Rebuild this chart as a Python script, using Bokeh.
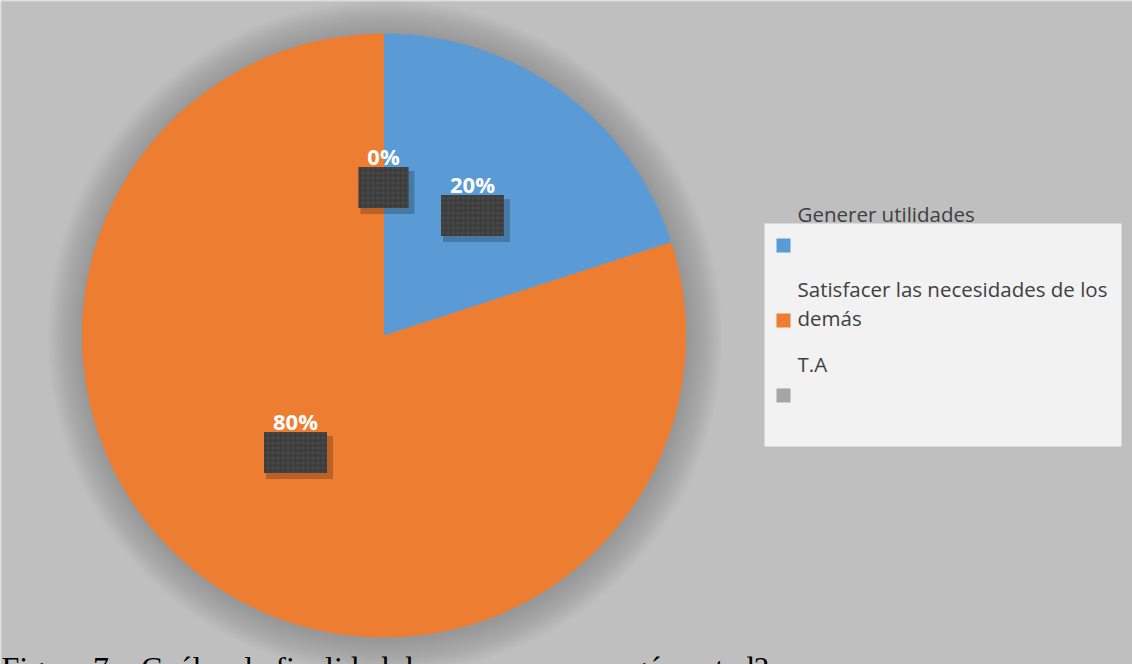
import math
import textwrap
from bokeh.plotting import figure
from bokeh.models import Range1d
from bokeh.core.properties import value
from bokeh.embed import file_html
from bokeh.resources import INLINE

# ---- data ----
categories = ["Generer utilidades", "Satisfacer las necesidades de los demás", "T.A"]
percent = [20, 80, 0]
colors = ["#5B9BD5", "#ED7D31", "#A5A5A5"]
caption = "Figura 7.\u00a0\u00a0\u00a0Cuál es la finalidad de una empresa según usted?"

# ---- layout (pixels) ----
W, H = 1132, 664
CX, CY, R = 383.5, 335, 302
BG = "#BFBFBF"
label_xy = [(472, 183), (295, 420), (383, 155)]  # data-label text centres


def Y(py):
    return H - py


p = figure(width=W, height=H, x_range=Range1d(0, W), y_range=Range1d(0, H),
           output_backend="svg", toolbar_location=None, min_border=0,
           background_fill_color=BG, border_fill_color=BG, outline_line_color=None)
p.axis.visible = False
p.grid.visible = False

# thin light frame line at top / left like the reference
p.line(x=[0.5, 0.5, W], y=[0, H - 0.5, H - 0.5], line_color="#D9D9D9", line_width=1)

# soft shadow around the pie
for k in range(16, 0, -1):
    p.circle(x=[CX + 1], y=[Y(CY) - 2], radius=R + 2.2 * k, fill_color="black",
             fill_alpha=0.013, line_color=None)

# wedges (clockwise from 12 o'clock)
total = sum(percent)
cum = 0.0
for val, col in zip(percent, colors):
    if val > 0:
        a0 = math.pi / 2 - 2 * math.pi * (cum + val) / total
        a1 = math.pi / 2 - 2 * math.pi * cum / total
        p.wedge(x=[CX], y=[Y(CY)], radius=R, start_angle=a0, end_angle=a1,
                fill_color=col, line_color=None)
    cum += val

# data labels with dark textured boxes
for val, (tx, ty) in zip(percent, label_xy):
    lab = f"{val}%"
    bw = 24 + 13 * len(lab)
    bh = 41
    bx, by = tx, ty + 32
    p.rect(x=[bx + 4], y=[Y(by + 5)], width=bw + 4, height=bh + 2, fill_color="black",
           fill_alpha=0.22, line_color=None)
    p.rect(x=[bx], y=[Y(by)], width=bw, height=bh, fill_color="#3D3D3D",
           line_color=None, hatch_pattern="ring", hatch_color="#4E4E4E",
           hatch_scale=5, hatch_alpha=0.8)
    p.text(x=[tx], y=[Y(ty)], text=[lab], text_font=value("Open Sans"),
           text_font_style="bold", text_font_size="22px", text_color="white",
           text_align="center", text_baseline="middle")

# legend
p.quad(left=[764], right=[1121], top=[Y(223)], bottom=[Y(446)],
       fill_color="#F2F2F2", line_color=None)
for i, (cat, col) in enumerate(zip(categories, colors)):
    cy = 245 + 75 * i
    lines = textwrap.wrap(cat, 33)
    p.rect(x=[783], y=[Y(cy)], width=14, height=14, fill_color=col, line_color=None)
    for j, line in enumerate(lines):
        p.text(x=[797], y=[Y(cy - 32 + 29 * j)], text=[line],
               text_font=value("Open Sans"), text_font_size="20.5px",
               text_color="#404040", text_align="left", text_baseline="middle")

# caption (cut off at the bottom edge, as in the reference)
p.text(x=[1], y=[Y(667)], text=[caption], text_font=value("Liberation Serif"),
       text_font_size="32px", text_color="black", text_align="left",
       text_baseline="alphabetic")

open("out.html", "w").write(file_html(p, INLINE))
